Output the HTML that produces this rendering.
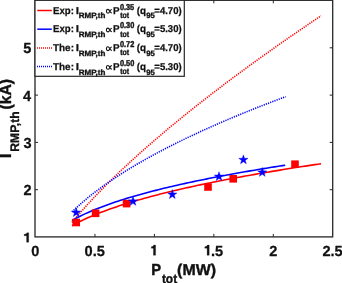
<!DOCTYPE html>
<html><head><meta charset="utf-8"><style>
html,body{margin:0;padding:0;background:#fff;}
body{width:342px;height:283px;overflow:hidden;position:relative;}
svg{position:absolute;left:0;top:0;display:block;will-change:transform;}
text{font-family:"Liberation Sans",sans-serif;font-weight:bold;fill:#111;stroke:#111;stroke-width:0.25px;text-rendering:geometricPrecision;}
</style></head><body>
<svg width="342" height="283" viewBox="0 0 342 283">
<polyline points="72.00,222.37 75.15,218.60 78.31,214.90 81.46,211.29 84.61,207.75 87.77,204.27 90.92,200.85 94.07,197.49 97.23,194.18 100.38,190.92 103.53,187.70 106.68,184.53 109.84,181.39 112.99,178.30 116.14,175.24 119.30,172.21 122.45,169.22 125.60,166.26 128.76,163.33 131.91,160.43 135.06,157.55 138.22,154.70 141.37,151.88 144.52,149.08 147.68,146.30 150.83,143.55 153.98,140.82 157.14,138.11 160.29,135.41 163.44,132.74 166.59,130.09 169.75,127.46 172.90,124.84 176.05,122.24 179.21,119.66 182.36,117.09 185.51,114.54 188.67,112.01 191.82,109.49 194.97,106.98 198.13,104.49 201.28,102.01 204.43,99.55 207.59,97.10 210.74,94.66 213.89,92.24 217.05,89.83 220.20,87.43 223.35,85.04 226.51,82.66 229.66,80.29 232.81,77.94 235.96,75.60 239.12,73.26 242.27,70.94 245.42,68.63 248.58,66.33 251.73,64.03 254.88,61.75 258.04,59.48 261.19,57.21 264.34,54.96 267.50,52.71 270.65,50.47 273.80,48.24 276.96,46.02 280.11,43.81 283.26,41.61 286.42,39.41 289.57,37.23 292.72,35.05 295.87,32.87 299.03,30.71 302.18,28.55 305.33,26.40 308.49,24.26 311.64,22.12 314.79,20.00 317.95,17.87 321.10,15.76" fill="none" stroke="#ff0000" stroke-width="1.6" stroke-dasharray="1.2 1.1"/>
<polyline points="72.00,211.93 74.71,209.32 77.41,206.80 80.12,204.36 82.82,202.00 85.53,199.70 88.23,197.47 90.94,195.29 93.64,193.16 96.35,191.09 99.05,189.06 101.76,187.07 104.46,185.13 107.17,183.22 109.87,181.35 112.58,179.51 115.28,177.71 117.99,175.93 120.69,174.19 123.40,172.47 126.10,170.78 128.81,169.12 131.51,167.48 134.22,165.86 136.92,164.27 139.63,162.69 142.33,161.14 145.04,159.61 147.74,158.09 150.45,156.60 153.15,155.12 155.86,153.66 158.56,152.21 161.27,150.78 163.97,149.37 166.68,147.97 169.38,146.59 172.09,145.22 174.79,143.87 177.50,142.52 180.20,141.19 182.91,139.88 185.61,138.57 188.32,137.28 191.02,136.00 193.73,134.73 196.43,133.47 199.14,132.22 201.84,130.98 204.55,129.75 207.25,128.54 209.96,127.33 212.66,126.13 215.37,124.94 218.07,123.76 220.78,122.59 223.48,121.42 226.19,120.27 228.89,119.12 231.60,117.98 234.30,116.85 237.01,115.73 239.71,114.62 242.42,113.51 245.12,112.41 247.83,111.32 250.53,110.23 253.24,109.15 255.94,108.08 258.65,107.01 261.35,105.95 264.06,104.90 266.76,103.85 269.47,102.81 272.17,101.78 274.88,100.75 277.58,99.73 280.29,98.71 282.99,97.70 285.70,96.69" fill="none" stroke="#0000ff" stroke-width="1.6" stroke-dasharray="1.2 1.1"/>
<polyline points="72.00,225.71 75.15,223.98 78.31,222.33 81.46,220.77 84.61,219.27 87.77,217.83 90.92,216.45 94.07,215.12 97.23,213.83 100.38,212.59 103.53,211.39 106.68,210.22 109.84,209.08 112.99,207.98 116.14,206.90 119.30,205.85 122.45,204.83 125.60,203.83 128.76,202.85 131.91,201.90 135.06,200.96 138.22,200.05 141.37,199.15 144.52,198.27 147.68,197.40 150.83,196.55 153.98,195.72 157.14,194.90 160.29,194.09 163.44,193.30 166.59,192.52 169.75,191.75 172.90,191.00 176.05,190.25 179.21,189.52 182.36,188.79 185.51,188.08 188.67,187.37 191.82,186.68 194.97,185.99 198.13,185.32 201.28,184.65 204.43,183.99 207.59,183.33 210.74,182.69 213.89,182.05 217.05,181.42 220.20,180.80 223.35,180.18 226.51,179.57 229.66,178.97 232.81,178.37 235.96,177.78 239.12,177.20 242.27,176.62 245.42,176.05 248.58,175.48 251.73,174.92 254.88,174.36 258.04,173.81 261.19,173.27 264.34,172.72 267.50,172.19 270.65,171.66 273.80,171.13 276.96,170.61 280.11,170.09 283.26,169.58 286.42,169.07 289.57,168.56 292.72,168.06 295.87,167.56 299.03,167.07 302.18,166.58 305.33,166.09 308.49,165.61 311.64,165.13 314.79,164.66 317.95,164.19 321.10,163.72" fill="none" stroke="#ff0000" stroke-width="1.6"/>
<polyline points="72.00,220.50 74.70,219.00 77.40,217.57 80.10,216.21 82.79,214.89 85.49,213.63 88.19,212.41 90.89,211.24 93.59,210.10 96.29,209.00 98.99,207.93 101.69,206.89 104.38,205.88 107.08,204.89 109.78,203.93 112.48,202.99 115.18,202.08 117.88,201.19 120.58,200.31 123.28,199.46 125.97,198.62 128.67,197.80 131.37,196.99 134.07,196.20 136.77,195.42 139.47,194.66 142.17,193.91 144.87,193.18 147.56,192.45 150.26,191.74 152.96,191.04 155.66,190.35 158.36,189.67 161.06,189.00 163.76,188.34 166.46,187.69 169.15,187.05 171.85,186.42 174.55,185.79 177.25,185.18 179.95,184.57 182.65,183.97 185.35,183.37 188.05,182.79 190.74,182.21 193.44,181.64 196.14,181.07 198.84,180.51 201.54,179.96 204.24,179.41 206.94,178.87 209.64,178.33 212.33,177.80 215.03,177.28 217.73,176.76 220.43,176.24 223.13,175.74 225.83,175.23 228.53,174.73 231.23,174.24 233.92,173.75 236.62,173.26 239.32,172.78 242.02,172.30 244.72,171.83 247.42,171.36 250.12,170.90 252.82,170.44 255.51,169.98 258.21,169.53 260.91,169.08 263.61,168.63 266.31,168.19 269.01,167.75 271.71,167.32 274.41,166.89 277.10,166.46 279.80,166.03 282.50,165.61 285.20,165.19" fill="none" stroke="#0000ff" stroke-width="1.6"/>
<rect x="72.40" y="218.70" width="7.6" height="7.6" fill="#ff0000"/>
<rect x="91.80" y="209.50" width="7.6" height="7.6" fill="#ff0000"/>
<rect x="122.80" y="199.80" width="7.6" height="7.6" fill="#ff0000"/>
<rect x="204.20" y="183.20" width="7.6" height="7.6" fill="#ff0000"/>
<rect x="229.40" y="175.00" width="7.6" height="7.6" fill="#ff0000"/>
<rect x="291.20" y="160.40" width="7.6" height="7.6" fill="#ff0000"/>
<polygon points="76.20,207.70 77.35,211.01 80.86,211.09 78.06,213.21 79.08,216.56 76.20,214.56 73.32,216.56 74.34,213.21 71.54,211.09 75.05,211.01" fill="#0000ff" stroke="#0000ff" stroke-width="0.4" stroke-linejoin="miter"/>
<polygon points="133.00,196.50 134.15,199.81 137.66,199.89 134.86,202.01 135.88,205.36 133.00,203.36 130.12,205.36 131.14,202.01 128.34,199.89 131.85,199.81" fill="#0000ff" stroke="#0000ff" stroke-width="0.4" stroke-linejoin="miter"/>
<polygon points="172.30,189.60 173.45,192.91 176.96,192.99 174.16,195.11 175.18,198.46 172.30,196.46 169.42,198.46 170.44,195.11 167.64,192.99 171.15,192.91" fill="#0000ff" stroke="#0000ff" stroke-width="0.4" stroke-linejoin="miter"/>
<polygon points="219.00,171.70 220.15,175.01 223.66,175.09 220.86,177.21 221.88,180.56 219.00,178.56 216.12,180.56 217.14,177.21 214.34,175.09 217.85,175.01" fill="#0000ff" stroke="#0000ff" stroke-width="0.4" stroke-linejoin="miter"/>
<polygon points="243.40,154.90 244.55,158.21 248.06,158.29 245.26,160.41 246.28,163.76 243.40,161.76 240.52,163.76 241.54,160.41 238.74,158.29 242.25,158.21" fill="#0000ff" stroke="#0000ff" stroke-width="0.4" stroke-linejoin="miter"/>
<polygon points="262.30,167.50 263.45,170.81 266.96,170.89 264.16,173.01 265.18,176.36 262.30,174.36 259.42,176.36 260.44,173.01 257.64,170.89 261.15,170.81" fill="#0000ff" stroke="#0000ff" stroke-width="0.4" stroke-linejoin="miter"/>
<rect x="35.0" y="0.3" width="297.7" height="236.6" fill="none" stroke="#262626" stroke-width="1.3"/>
<line x1="94.95" y1="236.9" x2="94.95" y2="233.9" stroke="#262626" stroke-width="1"/>
<line x1="94.95" y1="0.3" x2="94.95" y2="3.3" stroke="#262626" stroke-width="1"/>
<line x1="154.40" y1="236.9" x2="154.40" y2="233.9" stroke="#262626" stroke-width="1"/>
<line x1="154.40" y1="0.3" x2="154.40" y2="3.3" stroke="#262626" stroke-width="1"/>
<line x1="213.85" y1="236.9" x2="213.85" y2="233.9" stroke="#262626" stroke-width="1"/>
<line x1="213.85" y1="0.3" x2="213.85" y2="3.3" stroke="#262626" stroke-width="1"/>
<line x1="273.30" y1="236.9" x2="273.30" y2="233.9" stroke="#262626" stroke-width="1"/>
<line x1="273.30" y1="0.3" x2="273.30" y2="3.3" stroke="#262626" stroke-width="1"/>
<line x1="35.0" y1="189.70" x2="38.0" y2="189.70" stroke="#262626" stroke-width="1"/>
<line x1="332.7" y1="189.70" x2="329.7" y2="189.70" stroke="#262626" stroke-width="1"/>
<line x1="35.0" y1="142.40" x2="38.0" y2="142.40" stroke="#262626" stroke-width="1"/>
<line x1="332.7" y1="142.40" x2="329.7" y2="142.40" stroke="#262626" stroke-width="1"/>
<line x1="35.0" y1="95.10" x2="38.0" y2="95.10" stroke="#262626" stroke-width="1"/>
<line x1="332.7" y1="95.10" x2="329.7" y2="95.10" stroke="#262626" stroke-width="1"/>
<line x1="35.0" y1="47.80" x2="38.0" y2="47.80" stroke="#262626" stroke-width="1"/>
<line x1="332.7" y1="47.80" x2="329.7" y2="47.80" stroke="#262626" stroke-width="1"/>
<text x="31.35" y="255.50" font-size="14.6" textLength="8.12" lengthAdjust="spacingAndGlyphs">0</text>
<text x="84.59" y="255.50" font-size="14.6" textLength="20.30" lengthAdjust="spacingAndGlyphs">0.5</text>
<text x="269.18" y="255.50" font-size="14.6" textLength="8.12" lengthAdjust="spacingAndGlyphs">2</text>
<text x="322.43" y="255.50" font-size="14.6" textLength="20.30" lengthAdjust="spacingAndGlyphs">2.5</text>
<path d="M155.60,245.10 L155.60,255.30 L153.40,255.30 L153.40,248.26 L151.30,248.26 L151.30,246.73 C152.60,246.73 153.40,246.13 153.70,245.10 Z" fill="#111" stroke="#111" stroke-width="0.25"/>
<path d="M209.20,245.10 L209.20,255.30 L207.10,255.30 L207.10,248.26 L204.80,248.26 L204.80,246.73 C206.10,246.73 207.10,246.13 207.40,245.10 Z" fill="#111" stroke="#111" stroke-width="0.25"/>
<text x="210.88" y="255.50" font-size="14.6" textLength="12.17" lengthAdjust="spacingAndGlyphs">.5</text>
<path d="M28.70,232.80 L28.70,242.30 L26.60,242.30 L26.60,235.75 L24.10,235.75 L24.10,234.32 C25.40,234.32 26.60,233.72 26.90,232.80 Z" fill="#111" stroke="#111" stroke-width="0.25"/>
<text x="23.48" y="195.30" font-size="14.6" textLength="8.12" lengthAdjust="spacingAndGlyphs">2</text>
<text x="23.41" y="148.00" font-size="14.6" textLength="8.12" lengthAdjust="spacingAndGlyphs">3</text>
<text x="22.97" y="100.70" font-size="14.6" textLength="8.12" lengthAdjust="spacingAndGlyphs">4</text>
<text x="23.26" y="53.40" font-size="14.6" textLength="8.12" lengthAdjust="spacingAndGlyphs">5</text>
<text x="151.14" y="275.30" font-size="16.0" textLength="9.83" lengthAdjust="spacingAndGlyphs" style="stroke-width:0.45px">P</text>
<text x="161.88" y="282.60" font-size="12.6" textLength="15.26" lengthAdjust="spacingAndGlyphs" style="stroke-width:0.35px">tot</text>
<text x="177.10" y="275.20" font-size="15.6" textLength="38.86" lengthAdjust="spacingAndGlyphs" style="stroke-width:0.4px">(MW)</text>
<g transform="translate(11.3,0) rotate(-90)"><text x="-158.17" y="0.00" font-size="16.2" textLength="4.98" lengthAdjust="spacingAndGlyphs">I</text><text x="-151.69" y="8.00" font-size="12.4" textLength="40.43" lengthAdjust="spacingAndGlyphs" style="stroke-width:0.35px">RMP,th</text><text x="-109.59" y="0.00" font-size="16.4" textLength="30.56" lengthAdjust="spacingAndGlyphs" style="stroke-width:0.4px">(kA)</text></g>
<rect x="35.0" y="0.3" width="149.3" height="76.0" fill="#fff" stroke="#262626" stroke-width="1.2"/>
<line x1="37.3" y1="10.5" x2="51.8" y2="10.5" stroke="#ff0000" stroke-width="1.5"/>
<text x="53.07" y="13.60" font-size="10" textLength="20.86" lengthAdjust="spacingAndGlyphs">Exp:</text>
<text x="75.74" y="13.60" font-size="10" textLength="3.26" lengthAdjust="spacingAndGlyphs">I</text>
<text x="78.78" y="18.40" font-size="7.8" textLength="26.60" lengthAdjust="spacingAndGlyphs" style="stroke-width:0.35px">RMP,th</text>
<path d="M111.90,9.55 C110.90,9.55 110.40,10.30 109.85,11.30 C109.30,12.40 108.80,13.20 107.95,13.20 C106.95,13.20 106.40,12.40 106.40,11.30 C106.40,10.20 106.95,9.40 107.95,9.40 C108.80,9.40 109.30,10.20 109.85,11.30 C110.40,12.30 110.90,13.05 111.90,13.05" fill="none" stroke="#111" stroke-width="1.1"/>
<text x="113.06" y="13.60" font-size="10" textLength="6.55" lengthAdjust="spacingAndGlyphs">P</text>
<text x="119.91" y="9.70" font-size="8.5" textLength="14.29" lengthAdjust="spacingAndGlyphs" style="stroke-width:0.4px">0.35</text>
<text x="120.13" y="18.00" font-size="8.2" textLength="8.95" lengthAdjust="spacingAndGlyphs" style="stroke-width:0.35px">tot</text>
<text x="136.71" y="13.60" font-size="10" textLength="9.33" lengthAdjust="spacingAndGlyphs">(q</text>
<text x="146.13" y="18.40" font-size="7.8" textLength="8.58" lengthAdjust="spacingAndGlyphs" style="stroke-width:0.35px">95</text>
<text x="154.32" y="13.60" font-size="10" textLength="27.34" lengthAdjust="spacingAndGlyphs">=4.70)</text>
<line x1="37.3" y1="29.2" x2="51.8" y2="29.2" stroke="#0000ff" stroke-width="1.5"/>
<text x="53.07" y="32.30" font-size="10" textLength="20.86" lengthAdjust="spacingAndGlyphs">Exp:</text>
<text x="75.74" y="32.30" font-size="10" textLength="3.26" lengthAdjust="spacingAndGlyphs">I</text>
<text x="78.78" y="37.10" font-size="7.8" textLength="26.60" lengthAdjust="spacingAndGlyphs" style="stroke-width:0.35px">RMP,th</text>
<path d="M111.90,28.25 C110.90,28.25 110.40,29.00 109.85,30.00 C109.30,31.10 108.80,31.90 107.95,31.90 C106.95,31.90 106.40,31.10 106.40,30.00 C106.40,28.90 106.95,28.10 107.95,28.10 C108.80,28.10 109.30,28.90 109.85,30.00 C110.40,31.00 110.90,31.75 111.90,31.75" fill="none" stroke="#111" stroke-width="1.1"/>
<text x="113.06" y="32.30" font-size="10" textLength="6.55" lengthAdjust="spacingAndGlyphs">P</text>
<text x="119.90" y="28.40" font-size="8.5" textLength="14.40" lengthAdjust="spacingAndGlyphs" style="stroke-width:0.4px">0.30</text>
<text x="120.13" y="36.70" font-size="8.2" textLength="8.95" lengthAdjust="spacingAndGlyphs" style="stroke-width:0.35px">tot</text>
<text x="136.71" y="32.30" font-size="10" textLength="9.33" lengthAdjust="spacingAndGlyphs">(q</text>
<text x="146.13" y="37.10" font-size="7.8" textLength="8.58" lengthAdjust="spacingAndGlyphs" style="stroke-width:0.35px">95</text>
<text x="154.32" y="32.30" font-size="10" textLength="27.34" lengthAdjust="spacingAndGlyphs">=5.30)</text>
<line x1="37" y1="47.9" x2="52" y2="47.9" stroke="#ff0000" stroke-width="1.5" stroke-dasharray="1 1"/>
<text x="53.00" y="51.00" font-size="10" textLength="20.95" lengthAdjust="spacingAndGlyphs">The:</text>
<text x="75.74" y="51.00" font-size="10" textLength="3.26" lengthAdjust="spacingAndGlyphs">I</text>
<text x="78.78" y="55.80" font-size="7.8" textLength="26.60" lengthAdjust="spacingAndGlyphs" style="stroke-width:0.35px">RMP,th</text>
<path d="M111.90,46.95 C110.90,46.95 110.40,47.70 109.85,48.70 C109.30,49.80 108.80,50.60 107.95,50.60 C106.95,50.60 106.40,49.80 106.40,48.70 C106.40,47.60 106.95,46.80 107.95,46.80 C108.80,46.80 109.30,47.60 109.85,48.70 C110.40,49.70 110.90,50.45 111.90,50.45" fill="none" stroke="#111" stroke-width="1.1"/>
<text x="113.06" y="51.00" font-size="10" textLength="6.55" lengthAdjust="spacingAndGlyphs">P</text>
<text x="119.90" y="47.10" font-size="8.5" textLength="14.40" lengthAdjust="spacingAndGlyphs" style="stroke-width:0.4px">0.72</text>
<text x="120.13" y="55.40" font-size="8.2" textLength="8.95" lengthAdjust="spacingAndGlyphs" style="stroke-width:0.35px">tot</text>
<text x="136.71" y="51.00" font-size="10" textLength="9.33" lengthAdjust="spacingAndGlyphs">(q</text>
<text x="146.13" y="55.80" font-size="7.8" textLength="8.58" lengthAdjust="spacingAndGlyphs" style="stroke-width:0.35px">95</text>
<text x="154.32" y="51.00" font-size="10" textLength="27.34" lengthAdjust="spacingAndGlyphs">=4.70)</text>
<line x1="37" y1="66.6" x2="52" y2="66.6" stroke="#0000ff" stroke-width="1.5" stroke-dasharray="1 1"/>
<text x="53.00" y="69.70" font-size="10" textLength="20.95" lengthAdjust="spacingAndGlyphs">The:</text>
<text x="75.74" y="69.70" font-size="10" textLength="3.26" lengthAdjust="spacingAndGlyphs">I</text>
<text x="78.78" y="74.50" font-size="7.8" textLength="26.60" lengthAdjust="spacingAndGlyphs" style="stroke-width:0.35px">RMP,th</text>
<path d="M111.90,65.65 C110.90,65.65 110.40,66.40 109.85,67.40 C109.30,68.50 108.80,69.30 107.95,69.30 C106.95,69.30 106.40,68.50 106.40,67.40 C106.40,66.30 106.95,65.50 107.95,65.50 C108.80,65.50 109.30,66.30 109.85,67.40 C110.40,68.40 110.90,69.15 111.90,69.15" fill="none" stroke="#111" stroke-width="1.1"/>
<text x="113.06" y="69.70" font-size="10" textLength="6.55" lengthAdjust="spacingAndGlyphs">P</text>
<text x="119.90" y="65.80" font-size="8.5" textLength="14.40" lengthAdjust="spacingAndGlyphs" style="stroke-width:0.4px">0.50</text>
<text x="120.13" y="74.10" font-size="8.2" textLength="8.95" lengthAdjust="spacingAndGlyphs" style="stroke-width:0.35px">tot</text>
<text x="136.71" y="69.70" font-size="10" textLength="9.33" lengthAdjust="spacingAndGlyphs">(q</text>
<text x="146.13" y="74.50" font-size="7.8" textLength="8.58" lengthAdjust="spacingAndGlyphs" style="stroke-width:0.35px">95</text>
<text x="154.32" y="69.70" font-size="10" textLength="27.34" lengthAdjust="spacingAndGlyphs">=5.30)</text>
</svg></body></html>
